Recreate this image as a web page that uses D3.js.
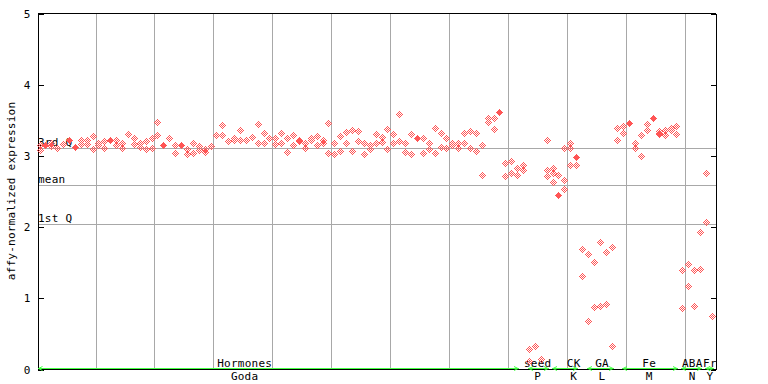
<!DOCTYPE html>
<html>
<head>
<meta charset="utf-8">
<script src="https://cdn.jsdelivr.net/npm/d3@7"></script>
<style>
  html, body { margin: 0; padding: 0; background: #fff; }
  svg { display: block; }
  text { font-family: "DejaVu Sans Mono", "Liberation Mono", monospace; font-size: 11px; fill: #000; letter-spacing: 0.25px; }
</style>
</head>
<body>
<svg id="chart" width="768" height="384"></svg>
<script>
// ---------- DATA ----------
// hollow (checkered) points, one array per sample index
const hollowValues = [
  [3.15,3.08], [], [3.17,3.13], [3.11], [3.16], [], [], [3.22,3.16], [3.22,3.16], [3.27,3.09],
  [3.18,3.14], [3.20,3.10], [], [3.22,3.14], [3.18,3.11], [3.30], [3.25,3.16], [3.18,3.12], [3.20,3.09], [3.25,3.10],
  [3.47,3.28], [], [3.25], [3.14,3.03], [], [3.09,3.02], [3.18,3.04], [3.13,3.08], [3.09,3.05], [3.13],
  [3.29], [3.42,3.28], [3.20], [3.24,3.21], [3.36,3.22], [3.22], [3.26], [3.44,3.17], [3.32,3.17], [3.25],
  [3.24,3.16], [3.32,3.18], [3.25,3.05], [3.29,3.14], [3.22,3.20], [3.17,3.10], [3.24,3.21], [3.27,3.15], [3.21,3.18], [3.46,3.04],
  [3.18,3.02], [3.27,3.06], [3.33,3.18], [3.36,3.06], [3.34,3.20], [3.17,3.02], [3.14,3.09], [3.30,3.18], [3.26,3.19], [3.37,3.09],
  [3.30,3.17], [3.58,3.20], [3.18,3.05], [3.30,3.02], [], [3.24,3.04], [3.17,3.09], [3.38,3.03], [3.32,3.12], [3.24,3.11],
  [3.17,3.14], [3.17,3.10], [3.31,3.17], [3.34,3.10], [3.32,3.06], [3.14,2.72], [3.53,3.47], [3.53,3.37], [], [2.89,2.71],
  [2.92,2.75], [2.82,2.72], [2.86,2.79], [0.28,0.11], [0.33], [0.14], [3.21,2.79,2.71], [2.82,2.75,2.62], [2.73], [3.11,2.66,2.53],
  [3.18,3.11,2.87], [2.87], [1.68,1.30], [1.61,0.67], [1.50,0.87], [1.79,0.89], [1.64,0.91], [1.71,0.33], [3.38,3.21], [3.41,3.31],
  [], [3.17,3.10], [3.28,2.99], [3.44,3.35], [], [3.34,3.30], [3.36,3.28], [3.38,3.35], [3.41,3.30], [1.39,0.85],
  [1.47,1.16], [1.39,0.89], [1.41,1.93], [2.75,2.07], [0.75]
];
// solid points: [sample index, value]
const solidValues = [
  [1,3.14],[5,3.22],[6,3.12],[12,3.22],[21,3.15],[24,3.15],[64,3.25],
  [78,3.61],[88,2.45],[91,2.98],[100,3.45],[104,3.52],[105,3.32]
];
const statLabels = ["3rd Q", "mean", "1st Q"];
const statValues = [3.11, 2.59, 2.04];
const yTicks = [0, 1, 2, 3, 4, 5];
const groupNames = ["Hormones", "seed", "CK", "GA", "Fe", "ABA", "Fr"];
const groupCodes = ["Goda", "P", "K", "L", "M", "N", "Y"];
const groupStart = [0, 83, 87, 93, 99, 109, 113];
const groupEnd   = [81, 86, 91, 97, 108, 112, 114];
const groupLabelAt = [34.7, 84.4, 90.5, 95.3, 103.3, 110.6, 113.6];
const gridEvery = 10;

(function () {
// ---------- LAYOUT ----------
const svg = d3.select("#chart");
const pLeft = 37.5, pRight = 715.5, pTop = 13.5, pBottom = 369.5;
const red = "#ff5555", grey = "#a8a8a8", green = "#44ff44";

const nSamples = hollowValues.length;
const x = d3.scaleLinear().domain([0, nSamples - 1]).range([40, 712.3]);
const y = d3.scaleLinear().domain([0, 5]).range([pBottom, pTop]);

// checker patterns
const defs = svg.append("defs");
[["chkA", [[0,0],[1,1]]], ["chkB", [[1,0],[0,1]]]].forEach(([id, cells]) => {
  const p = defs.append("pattern").attr("id", id)
    .attr("patternUnits", "userSpaceOnUse").attr("width", 2).attr("height", 2);
  cells.forEach(c => p.append("rect").attr("x", c[0]).attr("y", c[1])
    .attr("width", 1).attr("height", 1).attr("fill", red));
});

// vertical grid
const gridKs = d3.range(gridEvery - 1, nSamples - 1, gridEvery);
svg.append("g").selectAll("line").data(gridKs).join("line")
  .attr("x1", d => Math.floor(x(d + 0.5)) + 0.5).attr("x2", d => Math.floor(x(d + 0.5)) + 0.5)
  .attr("y1", pTop).attr("y2", pBottom)
  .attr("stroke", grey).attr("stroke-width", 1).attr("shape-rendering", "crispEdges");

// stat lines
const stats = statLabels.map((l, i) => ({label: l, value: statValues[i]}));
svg.append("g").selectAll("line").data(stats).join("line")
  .attr("x1", pLeft).attr("x2", pRight)
  .attr("y1", d => Math.floor(y(d.value)) + 0.5).attr("y2", d => Math.floor(y(d.value)) + 0.5)
  .attr("stroke", grey).attr("stroke-width", 1).attr("shape-rendering", "crispEdges");
svg.append("g").selectAll("text").data(stats).join("text")
  .attr("x", pLeft + 0.5).attr("y", d => Math.floor(y(d.value)) - 2)
  .text(d => d.label);

// frame: top line
svg.append("line").attr("x1", pLeft).attr("x2", pRight).attr("y1", pTop).attr("y2", pTop)
  .attr("stroke", "#000").attr("shape-rendering", "crispEdges");

// left axis
const yAxis = d3.axisLeft(y).tickValues(yTicks).tickSize(-6).tickSizeOuter(0).tickPadding(7)
  .tickFormat(d3.format("d"));
const gy = svg.append("g").attr("transform", `translate(${pLeft},0)`).call(yAxis);
gy.selectAll("path, line").attr("stroke", "#000").attr("shape-rendering", "crispEdges");
gy.attr("font-family", null).attr("font-size", null);

// right axis
const yAxisR = d3.axisRight(y).tickValues(yTicks).tickSize(-5).tickSizeOuter(0).tickFormat("");
const gr = svg.append("g").attr("transform", `translate(${pRight},0)`).call(yAxisR);
gr.selectAll("path, line").attr("stroke", "#000").attr("shape-rendering", "crispEdges");

// y title
svg.append("text").attr("transform", `translate(15,191) rotate(-90)`)
  .attr("text-anchor", "middle").text("affy-normalized expression");

// bottom axis line
svg.append("line").attr("x1", pLeft).attr("x2", pRight).attr("y1", pBottom).attr("y2", pBottom)
  .attr("stroke", "#000").attr("shape-rendering", "crispEdges");

// groups
const groups = groupNames.map((n, i) => ({name: n, code: groupCodes[i], s: groupStart[i], e: groupEnd[i], at: groupLabelAt[i]}));
const gg = svg.append("g");
groups.forEach((g, i) => {
  const x0 = i === 0 ? pLeft : Math.round(x(g.s) - 1.5);
  const x1 = Math.round(x(g.e) + 1.5);
  const yy = pBottom - 1;
  gg.append("line").attr("x1", x0).attr("x2", x1).attr("y1", yy).attr("y2", yy)
    .attr("stroke", green).attr("stroke-width", 1).attr("shape-rendering", "crispEdges");
  gg.append("path").attr("d", `M${x0 + 5},${yy - 2}L${x0 + 1},${yy}L${x0 + 5},${yy + 2}`)
    .attr("fill", "none").attr("stroke", green).attr("stroke-width", 1);
  gg.append("path").attr("d", `M${x1 - 5},${yy - 2}L${x1 - 1},${yy}L${x1 - 5},${yy + 2}`)
    .attr("fill", "none").attr("stroke", green).attr("stroke-width", 1);
  gg.append("text").attr("x", x(g.at)).attr("y", 367).attr("text-anchor", "middle").text(g.name);
  gg.append("text").attr("x", x(g.at)).attr("y", 380).attr("text-anchor", "middle").text(g.code);
});

// points
const hollowPts = [];
hollowValues.forEach((vals, k) => vals.forEach(v => hollowPts.push({k, v})));
const diamond = (cx, cy) => {
  const X = cx + 0.5, Y = cy + 0.5, r = 3.5;
  return `M${X},${Y - r}L${X + r},${Y}L${X},${Y + r}L${X - r},${Y}Z`;
};
svg.append("g").selectAll("path").data(hollowPts).join("path")
  .attr("d", d => diamond(Math.floor(x(d.k)), Math.floor(y(d.v))))
  .attr("fill", d => {
    const s = Math.floor(x(d.k)) + Math.floor(y(d.v)) + 1;
    return s % 2 === 0 ? "url(#chkA)" : "url(#chkB)";
  })
  .attr("shape-rendering", "crispEdges");
svg.append("g").selectAll("path").data(solidValues).join("path")
  .attr("d", d => diamond(Math.floor(x(d[0])), Math.floor(y(d[1]))))
  .attr("fill", red).attr("shape-rendering", "crispEdges");
})();
</script>
</body>
</html>
